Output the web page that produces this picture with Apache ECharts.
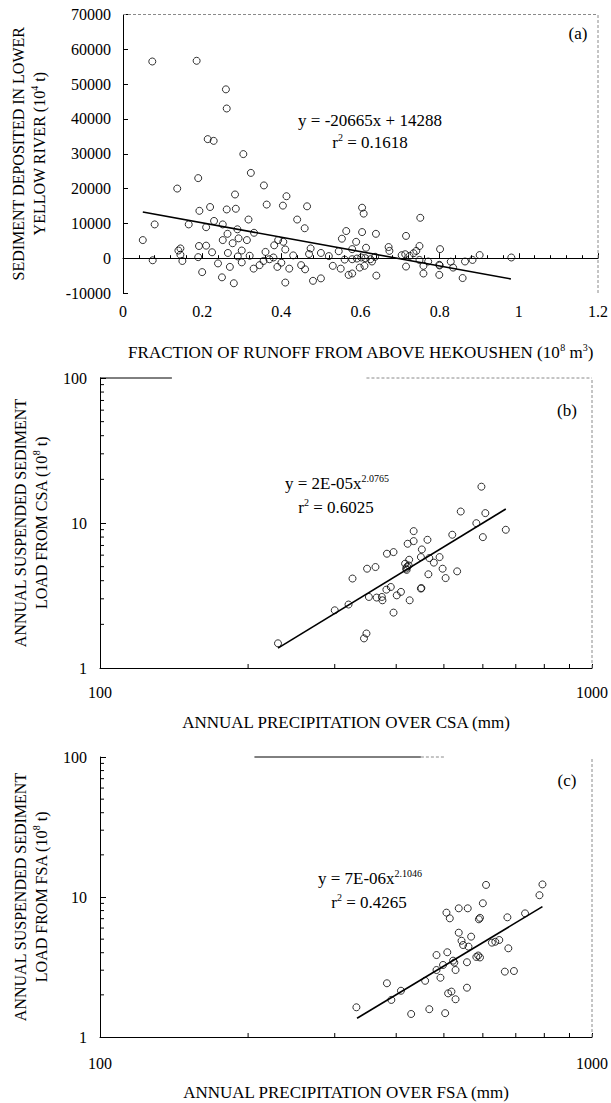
<!DOCTYPE html>
<html>
<head>
<meta charset="utf-8">
<script src="https://cdn.jsdelivr.net/npm/echarts@6/dist/echarts.min.js"></script>
<style>
html,body{margin:0;padding:0;background:#fff;}
#chart{width:611px;height:1103px;}
</style>
</head>
<body>
<div id="chart"></div>
<script>
// ---------- DATA ----------
// Panel (a): fraction of runoff from above Hekoushen vs sediment deposited (10^4 t)
const aPoints = [
  [0.074,56500],[0.186,56700],[0.26,48500],[0.262,43000],[0.214,34200],[0.229,33700],
  [0.304,29900],[0.323,24500],[0.19,23000],[0.137,20000],[0.356,20900],[0.283,18300],
  [0.413,17800],[0.363,15400],[0.404,15100],[0.465,14900],[0.22,14700],[0.193,13600],
  [0.262,14000],[0.285,14200],
  [0.05,5200],[0.08,9700],[0.166,9700],[0.192,3500],[0.21,3600],[0.145,2800],[0.21,8900],
  [0.23,10700],[0.252,9700],[0.264,7000],[0.252,5200],[0.277,4300],[0.289,8300],[0.292,5700],
  [0.313,5200],[0.331,7300],[0.317,11100],[0.44,11100],[0.459,8600],[0.382,3700],[0.392,5200],
  [0.405,4700],[0.553,5600],[0.564,7800],[0.474,2800],
  [0.604,14500],[0.608,12800],[0.604,7500],[0.639,7000],[0.589,4700],[0.579,2600],[0.614,3000],
  [0.579,-300],[0.591,-100],[0.602,200],[0.612,0],[0.625,-300],[0.637,400],
  [0.598,-2700],[0.61,-2200],[0.579,-4400],[0.629,-950],[0.64,-5000],
  [0.715,6400],[0.671,3200],[0.673,2100],
  [0.704,860],[0.713,1140],[0.724,660],[0.734,1430],[0.741,2090],
  [0.749,3500],[0.751,11600],[0.715,-2400],[0.749,-500],[0.759,-2200],[0.771,-950],[0.759,-4400],
  [0.801,2600],[0.799,-1900],[0.80,-2100],[0.799,-4800],[0.828,-1000],[0.834,-2700],[0.858,-5700],
  [0.864,-950],[0.883,-500],[0.901,900],[0.981,200],
  [0.075,-600],[0.14,2200],[0.145,1000],[0.15,-800],[0.19,300],[0.2,-4000],[0.225,1700],
  [0.24,-1500],[0.25,-5500],[0.265,1500],[0.27,-2500],[0.28,-7200],[0.29,500],[0.30,-1200],
  [0.32,700],[0.33,-3000],[0.345,-2000],[0.355,-800],[0.37,-300],[0.38,200],[0.39,-2500],
  [0.40,-1300],[0.41,-7000],[0.42,-3000],[0.43,800],[0.45,-2000],[0.46,-3200],[0.47,1200],
  [0.48,-6500],[0.50,-5800],[0.50,1500],[0.52,600],[0.53,-2200],[0.55,-3000],[0.56,-400],
  [0.57,-4800],[0.545,2000],[0.41,2500],[0.36,1800],[0.30,2200]
];
const aTrend = [[0.05,13255],[0.98,-5964]];
const aXRange = [0, 1.2, 0.2];
const aYRange = [-10000, 70000, 10000];

// Panel (b): annual precipitation over CSA (mm) vs suspended sediment load (10^8 t)
const bPoints = [
  [230,1.48],[300,2.50],[320,2.74],[326,4.14],[344,1.60],[348,1.73],[349,4.84],[363,4.97],
  [352,3.09],[365,3.06],[374,3.09],[375,2.93],[382,3.47],[390,3.62],[383,6.14],[395,6.30],
  [395,2.41],[401,3.17],[409,3.35],[426,2.93],[417,5.24],[419,4.85],[421,5.0],[424,5.1],
  [420,4.75],[425,5.58],[422,7.19],[434,7.50],[434,8.79],[451,6.57],[449,5.82],[449,3.53],
  [450,3.56],[463,7.66],[467,5.73],[465,4.43],[477,5.33],[490,5.82],[497,4.84],[504,4.17],
  [520,8.30],[532,4.64],[541,12.0],[582,9.97],[596,17.8],[607,11.7],[600,7.99],[668,8.98]
];
const bTrend = [[230,1.37],[668,12.5]];

// Panel (c): annual precipitation over FSA (mm) vs suspended sediment load (10^8 t)
const cPoints = [
  [332,1.63],[383,2.42],[391,1.84],[409,2.14],[429,1.46],[458,2.52],[467,1.58],[483,3.85],
  [483,3.01],[492,2.65],[498,3.27],[503,1.48],[508,4.03],[506,7.73],[514,7.04],[510,2.05],
  [518,2.11],[528,1.86],[522,3.51],[528,3.01],[525,3.4],[536,8.3],[559,8.3],[536,5.56],
  [543,4.87],[547,4.54],[561,4.42],[557,3.42],[557,2.25],[568,5.21],[589,6.93],[592,7.1],
  [582,3.73],[587,3.82],[592,3.7],[600,9.02],[609,12.2],[626,4.72],[636,4.79],[648,4.93],
  [673,7.16],[676,4.30],[665,2.93],[694,2.96],[731,7.64],[782,10.3],[793,12.3]
];
const cTrend = [[333,1.36],[793,8.53]];

const logXRange = [100, 1000];
const logYRange = [1, 100];
const logMinorX = [200,300,400,500,600,700,800,900];
const logMinorY = [2,3,4,5,6,7,8,9,20,30,40,50,60,70,80,90];

// Frame segments (axis coordinates) [x1,y1,x2,y2,kind] kind 0 = solid, 1 = dashed
const aFrame = [[0,70000,1.2,70000,1],[1.2,-10000,1.2,70000,1]];
const bFrame = [[100,100,140,100,0],[348,100,1000,100,1],[1000,1,1000,100,1]];
const cFrame = [[206,100,449,100,0],[449,100,500,100,1],[1000,1,1000,100,1]];

// ---------- CHART ----------
const FONT = "'Liberation Serif','Times New Roman',serif";
const chart = echarts.init(document.getElementById('chart'), null, {renderer:'svg', width:611, height:1103});

const rich = {
  t:{fontFamily:FONT, fontSize:17, color:'#000', lineHeight:20},
  y:{fontFamily:FONT, fontSize:16, color:'#000', lineHeight:21},
  s:{fontFamily:FONT, fontSize:10, color:'#000', lineHeight:11, verticalAlign:'top'}
};

function tickStyle(len){ return {show:true, inside:true, length:len, lineStyle:{color:'#000', width:1}}; }
const lineAxis = {show:true, lineStyle:{color:'#000', width:1}};
const labelBase = {fontFamily:FONT, fontSize:16, color:'#000'};

function scatterSeries(idx, data){
  return {type:'scatter', xAxisIndex:idx, yAxisIndex:idx, data:data, symbol:'circle', symbolSize:7,
    itemStyle:{color:'rgba(0,0,0,0)', borderColor:'#000', borderWidth:1}, z:3};
}
function trendSeries(idx, data){
  return {type:'line', xAxisIndex:idx, yAxisIndex:idx, data:data, showSymbol:false, symbol:'none',
    lineStyle:{color:'#000', width:1.6}, z:4};
}
function frameSeries(idx, data){
  return {type:'custom', xAxisIndex:idx, yAxisIndex:idx, data:data, silent:true, clip:false, z:2,
    encode:{x:[0,2], y:[1,3]},
    renderItem:function(params, api){
      const p1 = api.coord([api.value(0), api.value(1)]);
      const p2 = api.coord([api.value(2), api.value(3)]);
      const dashed = api.value(4) === 1;
      return {type:'line', shape:{x1:p1[0],y1:p1[1],x2:p2[0],y2:p2[1]},
        style:{stroke: dashed ? '#8a8a8a' : '#000', lineWidth:1, lineDash: dashed ? [3,2] : null}};
    }};
}
function minorXSeries(idx){
  return {type:'custom', xAxisIndex:idx, yAxisIndex:idx, silent:true, clip:false, z:2,
    data: logMinorX.map(v => [v, logYRange[0]]), encode:{x:0, y:1},
    renderItem:function(params, api){
      const p = api.coord([api.value(0), api.value(1)]);
      return {type:'line', shape:{x1:p[0],y1:p[1],x2:p[0],y2:p[1]-4}, style:{stroke:'#000', lineWidth:1}};
    }};
}
function minorYSeries(idx){
  return {type:'custom', xAxisIndex:idx, yAxisIndex:idx, silent:true, clip:false, z:2,
    data: logMinorY.map(v => [logXRange[0], v]), encode:{x:0, y:1},
    renderItem:function(params, api){
      const p = api.coord([api.value(0), api.value(1)]);
      return {type:'line', shape:{x1:p[0],y1:p[1],x2:p[0]+4,y2:p[1]}, style:{stroke:'#000', lineWidth:1}};
    }};
}

function logXAxis(grid, name, gap, margin){
  return {type:'log', logBase:10, gridIndex:grid, min:logXRange[0], max:logXRange[1],
    axisLine:lineAxis, axisTick:tickStyle(4), splitLine:{show:false},
    axisLabel:Object.assign({margin:margin, formatter:v => String(v)}, labelBase),
    name:name, nameLocation:'middle', nameGap:gap,
    nameTextStyle:{fontFamily:FONT, fontSize:17, color:'#000', lineHeight:20, rich:rich}};
}
function logYAxis(grid, name, gap){
  return {type:'log', logBase:10, gridIndex:grid, min:logYRange[0], max:logYRange[1],
    axisLine:lineAxis, axisTick:tickStyle(6), splitLine:{show:false},
    axisLabel:Object.assign({margin:13, formatter:v => String(v)}, labelBase),
    name:name, nameLocation:'middle', nameRotate:90, nameGap:gap,
    nameTextStyle:{fontFamily:FONT, fontSize:16, color:'#000', lineHeight:21, rich:rich}};
}

function eqText(x, y, txt){
  return {type:'text', x:x, y:y, silent:true,
    style:{text:txt, rich:rich, align:'center', verticalAlign:'middle', fill:'#000',
      font:"17px 'Liberation Serif','Times New Roman',serif"}};
}

const option = {
  animation:false,
  backgroundColor:'#fff',
  grid:[
    {left:122, top:14.5, width:477, height:278.5},
    {left:100, top:378, width:495, height:290},
    {left:100, top:757, width:495, height:280}
  ],
  xAxis:[
    {type:'value', gridIndex:0, min:aXRange[0], max:aXRange[1], interval:aXRange[2],
      axisLine:lineAxis, axisTick:tickStyle(5),
      minorTick:{show:true, splitNumber:5, length:3, lineStyle:{color:'#000', width:1}},
      splitLine:{show:false},
      axisLabel:Object.assign({margin:10, formatter:v => String(Math.round(v*10)/10)}, labelBase),
      name:'{t|FRACTION OF RUNOFF FROM ABOVE HEKOUSHEN (10}{s|8}{t| m}{s|3}{t|)}',
      nameLocation:'middle', nameGap:49,
      nameTextStyle:{fontFamily:FONT, fontSize:17, color:'#000', lineHeight:20, rich:rich}},
    logXAxis(1, '{t|ANNUAL PRECIPITATION OVER CSA (mm)}', 44, 16),
    logXAxis(2, '{t|ANNUAL PRECIPITATION OVER FSA (mm)}', 45, 18)
  ],
  yAxis:[
    {type:'value', gridIndex:0, min:aYRange[0], max:aYRange[1], interval:aYRange[2],
      axisLine:lineAxis, axisTick:tickStyle(5), splitLine:{show:false},
      axisLabel:Object.assign({margin:12, formatter:v => String(v)}, labelBase),
      name:'{y|SEDIMENT DEPOSITED IN LOWER}\n{y|YELLOW RIVER (10}{s|4}{y| t)}',
      nameLocation:'middle', nameRotate:90, nameGap:73,
      nameTextStyle:{fontFamily:FONT, fontSize:16, color:'#000', lineHeight:21, rich:rich}},
    logYAxis(1, '{y|ANNUAL SUSPENDED SEDIMENT}\n{y|LOAD FROM CSA (10}{s|8}{y| t)}', 43),
    logYAxis(2, '{y|ANNUAL SUSPENDED SEDIMENT}\n{y|LOAD FROM FSA (10}{s|8}{y| t)}', 45)
  ],
  series:[
    frameSeries(0, aFrame), frameSeries(1, bFrame), frameSeries(2, cFrame),
    minorXSeries(1), minorYSeries(1), minorXSeries(2), minorYSeries(2),
    scatterSeries(0, aPoints), trendSeries(0, aTrend),
    scatterSeries(1, bPoints), trendSeries(1, bTrend),
    scatterSeries(2, cPoints), trendSeries(2, cTrend)
  ],
  graphic:[
    eqText(370, 120, '{t|y = -20665x + 14288}'),
    eqText(370, 142, '{t|r}{s|2}{t| = 0.1618}'),
    eqText(578, 33, '{t|(a)}'),
    eqText(337, 483, '{t|y = 2E-05x}{s|2.0765}'),
    eqText(336, 507, '{t|r}{s|2}{t| = 0.6025}'),
    eqText(567, 410, '{t|(b)}'),
    eqText(370, 878, '{t|y = 7E-06x}{s|2.1046}'),
    eqText(369, 902, '{t|r}{s|2}{t| = 0.4265}'),
    eqText(567, 780, '{t|(c)}')
  ]
};
chart.setOption(option);
</script>
</body>
</html>
